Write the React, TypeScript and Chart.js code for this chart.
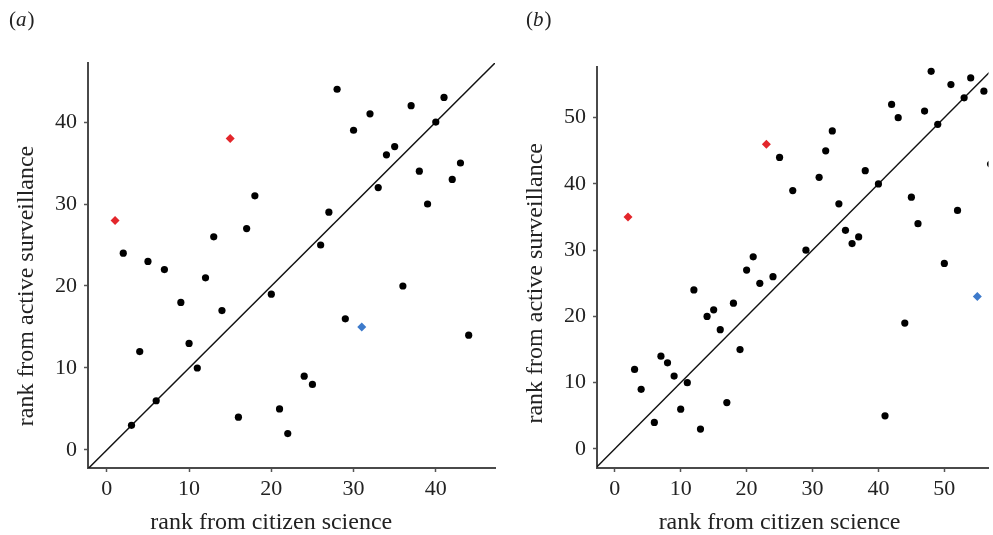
import React, { useEffect, useRef } from "react";
import { Chart, registerables } from "chart.js";

Chart.register(...registerables);

const FONT = "'Liberation Serif', 'Times New Roman', serif";

// ---------- Panel (a) ----------
const aBlackX = [2, 3, 4, 5, 6, 7, 9, 10, 11, 12, 13, 14, 16, 17, 18, 20, 21, 22, 24, 25, 26, 27, 28, 29, 30, 32, 33, 34, 35, 36, 37, 38, 39, 40, 41, 42, 43, 44];
const aBlackY = [24, 3, 12, 23, 6, 22, 18, 13, 10, 21, 26, 17, 4, 27, 31, 19, 5, 2, 9, 8, 25, 29, 44, 16, 39, 41, 32, 36, 37, 20, 42, 34, 30, 40, 43, 33, 35, 14];
const aRedX = [1, 15];
const aRedY = [28, 38];
const aBlueX = [31];
const aBlueY = [15];
const aTicks = [0, 10, 20, 30, 40];

// ---------- Panel (b) ----------
const bBlackX = [3, 4, 6, 7, 8, 9, 10, 11, 12, 13, 14, 15, 16, 17, 18, 19, 20, 21, 22, 24, 25, 27, 29, 31, 32, 33, 34, 35, 36, 37, 38, 40, 41, 42, 43, 44, 45, 46, 47, 48, 49, 50, 51, 52, 53, 54, 56, 57];
const bBlackY = [12, 9, 4, 14, 13, 11, 6, 10, 24, 3, 20, 21, 18, 7, 22, 15, 27, 29, 25, 26, 44, 39, 30, 41, 45, 48, 37, 33, 31, 32, 42, 40, 5, 52, 50, 19, 38, 34, 51, 57, 49, 28, 55, 36, 53, 56, 54, 43];
const bRedX = [2, 23];
const bRedY = [35, 46];
const bBlueX = [55];
const bBlueY = [23];
const bTicks = [0, 10, 20, 30, 40, 50];

const zip = (xs: number[], ys: number[]) => xs.map((x, i) => ({ x, y: ys[i] }));

function makePlugin(letter: string, mid: number) {
  return {
    id: "panelText",
    afterDraw(chart: any) {
      const { ctx, scales, chartArea } = chart;
      ctx.save();
      ctx.fillStyle = "#222";
      ctx.textBaseline = "alphabetic";
      // x title
      ctx.font = `24px ${FONT}`;
      ctx.textAlign = "center";
      ctx.fillText("rank from citizen science", scales.x.getPixelForValue(mid), 529);
      // y title
      ctx.save();
      ctx.translate(chartArea.left - 55, scales.y.getPixelForValue(mid));
      ctx.rotate(-Math.PI / 2);
      ctx.fillText("rank from active surveillance", 0, 0);
      ctx.restore();
      // panel label
      ctx.textAlign = "left";
      const x0 = letter === "a" ? 9 : 11;
      const base = 26;
      ctx.font = `21px ${FONT}`;
      ctx.fillText("(", x0, base);
      let w = ctx.measureText("(").width;
      ctx.font = `italic 21px ${FONT}`;
      ctx.fillText(letter, x0 + w, base);
      w += ctx.measureText(letter).width + 1;
      ctx.font = `21px ${FONT}`;
      ctx.fillText(")", x0 + w, base);
      ctx.restore();
    },
  };
}

function axis(min: number, max: number, ticks: number[], isX: boolean, fitSize: number) {
  return {
    type: "linear",
    min,
    max,
    afterBuildTicks: (s: any) => {
      s.ticks = ticks.map((v) => ({ value: v }));
    },
    afterFit: (s: any) => {
      if (isX) s.height = fitSize;
      else s.width = fitSize;
    },
    ticks: {
      font: { family: FONT, size: 22 },
      color: "#222",
      padding: isX ? 4 : 7,
      maxRotation: 0,
      autoSkip: false,
    },
    grid: {
      display: true,
      drawOnChartArea: false,
      drawTicks: true,
      tickLength: 4,
      tickColor: "#555",
      tickWidth: 1.5,
    },
    border: { display: true, color: "#4a4a4a", width: 2 },
  };
}

function makeConfig(p: any) {
  return {
    type: "scatter",
    data: {
      datasets: [
        { label: "species", data: zip(p.blackX, p.blackY), pointStyle: "circle", pointRadius: 3.6, backgroundColor: "#000", borderWidth: 0, clip: 0 },
        { label: "red", data: zip(p.redX, p.redY), pointStyle: "rectRot", pointRadius: 4.5, backgroundColor: "#e3262b", borderWidth: 0, clip: 0 },
        { label: "blue", data: zip(p.blueX, p.blueY), pointStyle: "rectRot", pointRadius: 4.5, backgroundColor: "#3d7acb", borderWidth: 0, clip: 0 },
        { label: "y = x", data: [{ x: -10, y: -10 }, { x: 70, y: 70 }], showLine: true, borderColor: "#111", borderWidth: 1.5, pointRadius: 0, fill: false, clip: 0 },
      ],
    },
    options: {
      responsive: false,
      animation: false,
      events: [],
      layout: { padding: { left: 0, top: p.top, right: p.right, bottom: 0 } },
      plugins: { legend: { display: false }, tooltip: { enabled: false }, title: { display: false } },
      scales: {
        x: axis(p.xmin, p.xmax, p.ticks, true, 67),
        y: axis(p.ymin, p.ymax, p.ticks, false, p.yWidth),
      },
    },
    plugins: [makePlugin(p.letter, p.mid)],
  };
}

export default function App() {
  const refA = useRef<HTMLCanvasElement>(null);
  const refB = useRef<HTMLCanvasElement>(null);

  useEffect(() => {
    const ca = new Chart(
      refA.current as any,
      makeConfig({
        blackX: aBlackX, blackY: aBlackY, redX: aRedX, redY: aRedY, blueX: aBlueX, blueY: aBlueY,
        ticks: aTicks, xmin: -2.29, xmax: 47.2, ymin: -2.2, ymax: 47.2,
        top: 63, right: 20, yWidth: 88, letter: "a", mid: 20,
      }) as any
    );
    const cb = new Chart(
      refB.current as any,
      makeConfig({
        blackX: bBlackX, blackY: bBlackY, redX: bRedX, redY: bRedY, blueX: bBlueX, blueY: bBlueY,
        ticks: bTicks, xmin: -2.7, xmax: 56.7, ymin: -2.88, ymax: 57.65,
        top: 67, right: 0, yWidth: 82, letter: "b", mid: 25,
      }) as any
    );
    return () => {
      ca.destroy();
      cb.destroy();
    };
  }, []);

  return (
    <div style={{ position: "fixed", left: 0, top: 0, width: 993, height: 535, overflow: "hidden", background: "#fff" }}>
      <canvas ref={refA} width={515} height={535} style={{ position: "absolute", left: 0, top: 0, width: 515, height: 535 }} />
      <canvas ref={refB} width={478} height={535} style={{ position: "absolute", left: 515, top: 0, width: 478, height: 535 }} />
    </div>
  );
}
